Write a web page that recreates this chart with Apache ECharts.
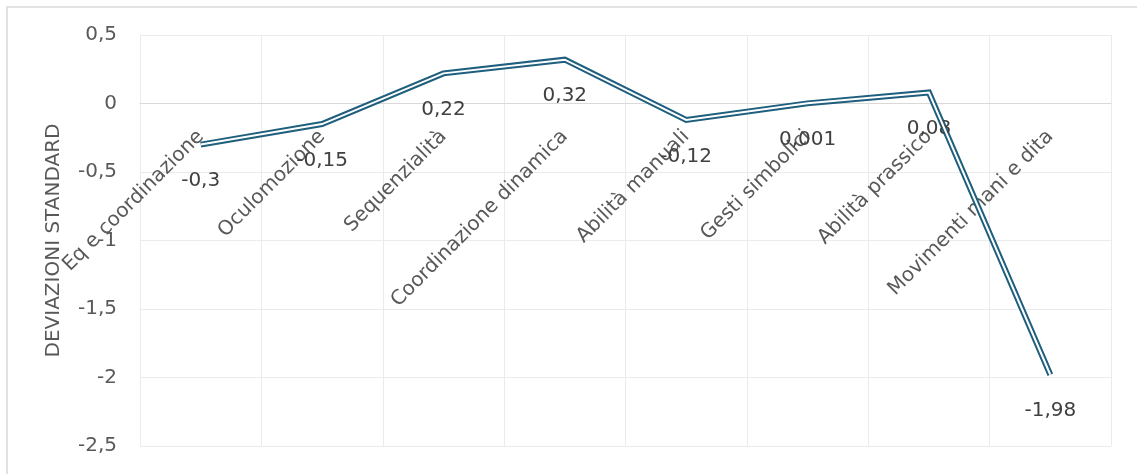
<!DOCTYPE html>
<html>
<head>
<meta charset="utf-8">
<script src="https://cdn.jsdelivr.net/npm/echarts@6/dist/echarts.min.js"></script>
<style>
html,body{margin:0;padding:0;background:#fff;}
#chart{width:1137px;height:474px;}
</style>
</head>
<body>
<div id="chart"></div>
<script>
var categories = ["Eq e coordinazione","Oculomozione","Sequenzialità","Coordinazione dinamica","Abilità manuali","Gesti simbolici","Abilità prassico","Movimenti mani e dita"];
var values = [-0.3, -0.15, 0.22, 0.32, -0.12, 0.001, 0.08, -1.98];
var yTicks = {min: -2.5, max: 0.5, interval: 0.5};
var yTitle = "DEVIAZIONI STANDARD";

var FONT = "'DejaVu Sans', sans-serif";
var LINE = "#1f5f7e";
function fmt(v){ var s = String(Math.round(v*1000)/1000); if (s === "-0") s = "0"; return s.replace('.', ','); }

var chart = echarts.init(document.getElementById('chart'), null, {renderer:'canvas'});
chart.setOption({
  animation: false,
  backgroundColor: '#fff',
  graphic: [{
    type: 'rect', shape: {x: 7, y: 7, width: 1140, height: 480},
    style: {fill: 'none', stroke: '#d9d9d9', lineWidth: 1.5}, silent: true, z: -10
  }],
  grid: {left: 140, right: 26, top: 35, bottom: 28, containLabel: false, outerBoundsMode: 'none'},
  xAxis: {
    type: 'category', data: categories, boundaryGap: true, position: 'bottom', offset: 0,
    axisLine: {show: true, onZero: false, lineStyle: {color: '#d9d9d9', width: 1}},
    axisTick: {show: false},
    splitLine: {show: true, lineStyle: {color: '#ebebeb', width: 1}},
    axisLabel: {interval: 0, rotate: 45, margin: 30, fontSize: 20, color: '#595959', fontFamily: FONT}
  },
  yAxis: {
    type: 'value', min: yTicks.min, max: yTicks.max, interval: yTicks.interval,
    name: yTitle, nameLocation: 'middle', nameGap: 76, nameRotate: 90,
    nameTextStyle: {fontSize: 20, color: '#595959', fontFamily: FONT},
    axisLine: {show: false}, axisTick: {show: false},
    splitLine: {show: true, lineStyle: {color: '#ebebeb', width: 1}},
    axisLabel: {fontSize: 20, color: '#595959', fontFamily: FONT, margin: 23, formatter: fmt}
  },
  series: [{
    type: 'line', data: values, z: 2,
    symbol: 'circle', symbolSize: 1, itemStyle: {color: 'rgba(0,0,0,0)'},
    lineStyle: {color: LINE, width: 6, join: 'miter'},
    label: {show: true, position: 'bottom', distance: 26, fontSize: 20, color: '#404040', fontFamily: FONT,
      formatter: function(p){ return fmt(p.value); }}
  },{
    type: 'line', data: values, z: 3,
    symbol: 'none',
    lineStyle: {color: '#ffffff', width: 2, join: 'miter'}
  }]
});
// move the category axis (line + labels) to the y=0 crossing, as in the source chart
var yBottom = chart.convertToPixel({yAxisIndex: 0}, yTicks.min);
var yZero = chart.convertToPixel({yAxisIndex: 0}, 0);
chart.setOption({xAxis: {offset: -(yBottom - yZero)}});
</script>
</body>
</html>
